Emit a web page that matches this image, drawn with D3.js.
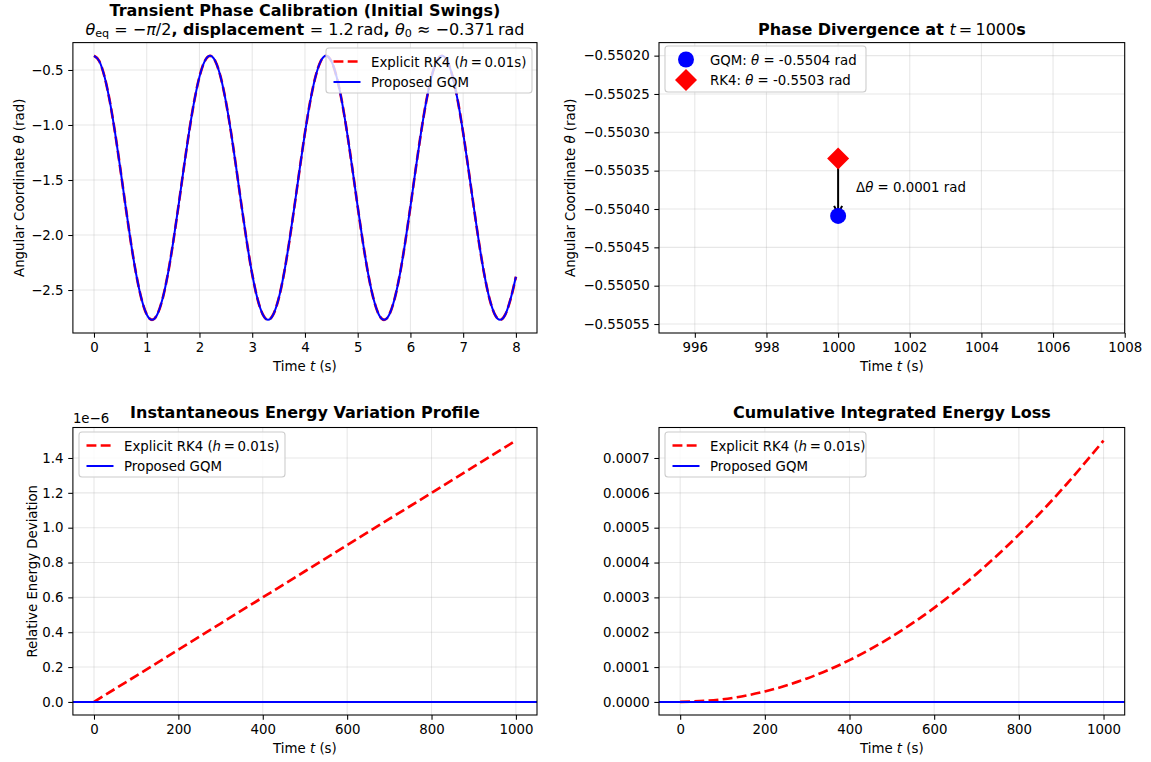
<!DOCTYPE html>
<html><head><meta charset="utf-8">
<script src="https://cdn.jsdelivr.net/npm/d3@7"></script>
<style>
body{margin:0;background:#fff}
text{font-family:"DejaVu Sans",sans-serif;fill:#000}
</style>
</head><body>
<svg id="c" width="1151" height="762"></svg>
<script>
// ---------- DATA ----------
// Panel 1: initial swings, sampled every 0.1 s from t = 0 to 8 s
const swingStep = 0.1;
const swingTheta = [
 -0.371,-0.419,-0.561,-0.785,-1.072,-1.400,-1.742,-2.069,-2.357,-2.580,-2.722,
 -2.771,-2.722,-2.580,-2.357,-2.069,-1.742,-1.400,-1.072,-0.785,-0.561,-0.419,
 -0.371,-0.419,-0.561,-0.785,-1.072,-1.400,-1.742,-2.069,-2.357,-2.580,-2.722,
 -2.771,-2.722,-2.580,-2.357,-2.069,-1.742,-1.400,-1.072,-0.785,-0.561,-0.419,
 -0.371,-0.419,-0.561,-0.785,-1.072,-1.400,-1.742,-2.069,-2.357,-2.580,-2.722,
 -2.771,-2.722,-2.580,-2.357,-2.069,-1.742,-1.400,-1.072,-0.785,-0.561,-0.419,
 -0.371,-0.419,-0.561,-0.785,-1.072,-1.400,-1.742,-2.069,-2.357,-2.580,-2.722,
 -2.771,-2.722,-2.580,-2.380
];
const swingRK4 = swingTheta;
const swingGQM = swingTheta;
const swingXTicks = [0,1,2,3,4,5,6,7,8];
const swingYTicks = [-0.5,-1.0,-1.5,-2.0,-2.5];

// Panel 2: phase at t = 1000 s
const divTime = 1000;
const divGQM = -0.550409;
const divRK4 = -0.550334;
const divLabels = ["GQM: θ = -0.5504 rad", "RK4: θ = -0.5503 rad"];
const divDeltaLabel = "0.0001";
const divXTicks = [996,998,1000,1002,1004,1006,1008];
const divYTicks = [-0.55020,-0.55025,-0.55030,-0.55035,-0.55040,-0.55045,-0.55050,-0.55055];

// Panel 3 & 4: energy
const energyTime = [0,100,200,300,400,500,600,700,800,900,1000];
const rk4EnergyDev = [0,0.15e-6,0.30e-6,0.45e-6,0.60e-6,0.75e-6,0.90e-6,1.05e-6,1.20e-6,1.35e-6,1.50e-6];
const gqmEnergyDev = [0,0,0,0,0,0,0,0,0,0,0];
const rk4CumLoss = [0,0.0000075,0.00003,0.0000675,0.00012,0.0001875,0.00027,0.0003675,0.00048,0.0006075,0.00075];
const gqmCumLoss = [0,0,0,0,0,0,0,0,0,0,0];
const energyXTicks = [0,200,400,600,800,1000];
const devYTicks = [0,0.2e-6,0.4e-6,0.6e-6,0.8e-6,1.0e-6,1.2e-6,1.4e-6];
const lossYTicks = [0,0.0001,0.0002,0.0003,0.0004,0.0005,0.0006,0.0007];

// ---------- LAYOUT ----------
const svg = d3.select("#c");
const FS = 13.33, TFS = 16;
const RED = "#ff0000", BLUE = "#0000ff";
const P = [
  {l:72.9, r:537, t:42.6, b:333},
  {l:659, r:1124.7, t:42.6, b:333},
  {l:72.9, r:537, t:427.5, b:715},
  {l:659, r:1124.7, t:427.5, b:715}
];
const minus = s => s.replace(/-/g, "\u2212");

function setupAxes(p, x, y, xt, yt, xf, yf, id){
  const g = svg.append("g");
  // clip
  svg.append("clipPath").attr("id", "clip"+id).append("rect")
    .attr("x", p.l).attr("y", p.t).attr("width", p.r-p.l).attr("height", p.b-p.t);
  // grid
  g.selectAll(".gx").data(xt).join("line")
    .attr("x1", d=>x(d)).attr("x2", d=>x(d)).attr("y1", p.t).attr("y2", p.b)
    .attr("stroke", "#b0b0b0").attr("stroke-opacity", 0.3).attr("stroke-width", 1.07);
  g.selectAll(".gy").data(yt).join("line")
    .attr("y1", d=>y(d)).attr("y2", d=>y(d)).attr("x1", p.l).attr("x2", p.r)
    .attr("stroke", "#b0b0b0").attr("stroke-opacity", 0.3).attr("stroke-width", 1.07);
  return g;
}
function drawFrame(p, x, y, xt, yt, xf, yf){
  const ax = svg.append("g").attr("transform", `translate(0,${p.b})`)
    .call(d3.axisBottom(x).tickValues(xt).tickFormat(xf).tickSize(4.67).tickPadding(4.67));
  const ay = svg.append("g").attr("transform", `translate(${p.l},0)`)
    .call(d3.axisLeft(y).tickValues(yt).tickFormat(yf).tickSize(4.67).tickPadding(4.67));
  [ax, ay].forEach(a => {
    a.select(".domain").remove();
    a.selectAll(".tick line").attr("stroke", "#000").attr("stroke-width", 1.07);
    a.selectAll(".tick text").attr("font-size", FS).attr("font-family", "DejaVu Sans").attr("fill", "#000");
  });
  svg.append("rect").attr("x", p.l).attr("y", p.t).attr("width", p.r-p.l).attr("height", p.b-p.t)
    .attr("fill", "none").attr("stroke", "#000").attr("stroke-width", 1.07);
}
function xlabel(p, yb){
  const t = svg.append("text").attr("x", (p.l+p.r)/2).attr("y", yb)
    .attr("text-anchor", "middle").attr("font-size", FS);
  t.append("tspan").text("Time ");
  t.append("tspan").attr("font-style", "italic").text("t");
  t.append("tspan").text(" (s)");
}
function ylabel(p, xc, parts){
  const t = svg.append("text")
    .attr("transform", `translate(${xc},${(p.t+p.b)/2}) rotate(-90)`)
    .attr("text-anchor", "middle").attr("dominant-baseline", "central").attr("font-size", FS);
  parts.forEach(([s, it]) => t.append("tspan").attr("font-style", it ? "italic" : null).text(s));
}
function legend(x0, y0, w, h, rows){
  const g = svg.append("g");
  g.append("rect").attr("x", x0).attr("y", y0).attr("width", w).attr("height", h)
    .attr("rx", 3).attr("fill", "#fff").attr("fill-opacity", 0.8)
    .attr("stroke", "#cccccc").attr("stroke-width", 1.07);
  rows.forEach((r, i) => {
    const cy = y0 + 13.5 + i*20.5;
    const hx = x0 + 7.5;
    if (r.kind === "dash") {
      g.append("line").attr("x1", hx).attr("x2", hx+27).attr("y1", cy).attr("y2", cy)
        .attr("stroke", r.color).attr("stroke-width", r.w).attr("stroke-dasharray", r.dash);
    } else if (r.kind === "solid") {
      g.append("line").attr("x1", hx).attr("x2", hx+27).attr("y1", cy).attr("y2", cy)
        .attr("stroke", r.color).attr("stroke-width", r.w);
    } else if (r.kind === "circle") {
      g.append("circle").attr("cx", hx+13.5).attr("cy", cy).attr("r", 8).attr("fill", r.color);
    } else if (r.kind === "diamond") {
      g.append("path").attr("d", d3.symbol(d3.symbolSquare, 242)()).attr("transform", `translate(${hx+13.5},${cy}) rotate(45)`)
        .attr("fill", r.color);
    }
    const t = g.append("text").attr("x", x0 + 45).attr("y", cy).attr("dominant-baseline", "central")
      .attr("font-size", FS);
    r.parts.forEach(([s, it]) => t.append("tspan").attr("font-style", it ? "italic" : null).text(s));
  });
}
const rk4LegendParts = [["Explicit RK4 ("], ["h", true], ["\u2009=\u20090.01s)"]];

// ---------- PANEL 1 ----------
{
  const p = P[0];
  const x = d3.scaleLinear().domain([-0.4, 8.4]).range([p.l, p.r]);
  const y = d3.scaleLinear().domain([-2.8908, -0.2510]).range([p.b, p.t]);
  setupAxes(p, x, y, swingXTicks, swingYTicks, null, null, 1);
  const line = d3.line().x((d,i)=>x(i*swingStep)).y(d=>y(d)).curve(d3.curveMonotoneX);
  svg.append("path").datum(swingRK4).attr("d", line).attr("clip-path", "url(#clip1)")
    .attr("fill", "none").attr("stroke", RED).attr("stroke-width", 2.67).attr("stroke-dasharray", "9.9,4.3");
  svg.append("path").datum(swingGQM).attr("d", line).attr("clip-path", "url(#clip1)")
    .attr("fill", "none").attr("stroke", BLUE).attr("stroke-width", 2);
  drawFrame(p, x, y, swingXTicks, swingYTicks, d=>String(d), d=>minus(d.toFixed(1)));
  xlabel(p, 371);
  ylabel(p, 18.5, [["Angular Coordinate "], ["θ", true], [" (rad)"]]);
  const t1 = svg.append("text").attr("x", (p.l+p.r)/2).attr("y", 16).attr("text-anchor", "middle")
    .attr("font-size", TFS).attr("font-weight", "bold").text("Transient Phase Calibration (Initial Swings)");
  const t2 = svg.append("text").attr("x", (p.l+p.r)/2).attr("y", 34.5).attr("text-anchor", "middle")
    .attr("font-size", TFS);
  t2.append("tspan").attr("font-style", "italic").text("θ");
  t2.append("tspan").attr("font-size", 11.2).attr("dy", 2.5).text("eq");
  t2.append("tspan").attr("dy", -2.5).text(" = \u2212");
  t2.append("tspan").attr("font-style", "italic").text("π");
  t2.append("tspan").text("/2");
  t2.append("tspan").attr("font-weight", "bold").text(", displacement ");
  t2.append("tspan").text("= 1.2\u2009rad");
  t2.append("tspan").attr("font-weight", "bold").text(", ");
  t2.append("tspan").attr("font-style", "italic").text("θ");
  t2.append("tspan").attr("font-size", 11.2).attr("dy", 2.5).text("0");
  t2.append("tspan").attr("dy", -2.5).text(" \u2248 \u22120.371\u2009rad");
  legend(326, 48, 206, 45, [
    {kind:"dash", color:RED, w:2.67, dash:"9.9,4.3", parts:rk4LegendParts},
    {kind:"solid", color:BLUE, w:2, parts:[["Proposed GQM"]]}
  ]);
}

// ---------- PANEL 2 ----------
{
  const p = P[1];
  const x = d3.scaleLinear().domain([995, 1008]).range([p.l, p.r]);
  const y = d3.scaleLinear().domain([-0.5505617, -0.550183]).range([p.b, p.t]);
  setupAxes(p, x, y, divXTicks, divYTicks, null, null, 2);
  // arrow from RK4 to GQM
  const ax = x(divTime), ya = y(divRK4) + 2, yb = y(divGQM) - 2;
  svg.append("line").attr("x1", ax).attr("x2", ax).attr("y1", ya).attr("y2", yb)
    .attr("stroke", "#000").attr("stroke-width", 2);
  svg.append("path").attr("d", `M${ax-4},${yb-8}L${ax},${yb}L${ax+4},${yb-8}`)
    .attr("fill", "none").attr("stroke", "#000").attr("stroke-width", 2);
  svg.append("circle").attr("cx", x(divTime)).attr("cy", y(divGQM)).attr("r", 8).attr("fill", BLUE);
  svg.append("path").attr("d", d3.symbol(d3.symbolSquare, 242)())
    .attr("transform", `translate(${x(divTime)},${y(divRK4)}) rotate(45)`).attr("fill", RED);
  const at = svg.append("text").attr("x", x(divTime + 0.5)).attr("y", y((divRK4 + divGQM)/2))
    .attr("dominant-baseline", "central").attr("font-size", FS);
  at.append("tspan").text("Δ");
  at.append("tspan").attr("font-style", "italic").text("θ");
  at.append("tspan").text(" = " + divDeltaLabel + " rad");
  drawFrame(p, x, y, divXTicks, divYTicks, d=>String(d), d=>minus(d.toFixed(5)));
  xlabel(p, 371);
  ylabel(p, 570, [["Angular Coordinate "], ["θ", true], [" (rad)"]]);
  const tt = svg.append("text").attr("x", (p.l+p.r)/2).attr("y", 35).attr("text-anchor", "middle")
    .attr("font-size", TFS);
  tt.append("tspan").attr("font-weight", "bold").text("Phase Divergence at ");
  tt.append("tspan").attr("font-style", "italic").text("t");
  tt.append("tspan").text("\u2009=\u20091000");
  tt.append("tspan").attr("font-weight", "bold").text("s");
  const lp = divLabels.map(s => { const k = s.indexOf("θ"); return [[s.slice(0,k)],["θ",true],[s.slice(k+1)]]; });
  legend(665, 46, 201, 46, [
    {kind:"circle", color:BLUE, parts:lp[0]},
    {kind:"diamond", color:RED, parts:lp[1]}
  ]);
}

// ---------- PANEL 3 ----------
{
  const p = P[2];
  const x = d3.scaleLinear().domain([-50, 1050]).range([p.l, p.r]);
  const y = d3.scaleLinear().domain([-0.075e-6, 1.575e-6]).range([p.b, p.t]);
  setupAxes(p, x, y, energyXTicks, devYTicks, null, null, 3);
  const line = d3.line().x((d,i)=>x(energyTime[i])).y(d=>y(d));
  svg.append("path").datum(rk4EnergyDev).attr("d", line).attr("clip-path", "url(#clip3)")
    .attr("fill", "none").attr("stroke", RED).attr("stroke-width", 2.67).attr("stroke-dasharray", "9.9,4.3");
  svg.append("line").attr("x1", p.l).attr("x2", p.r).attr("y1", y(gqmEnergyDev[0])).attr("y2", y(gqmEnergyDev[0]))
    .attr("stroke", BLUE).attr("stroke-width", 2);
  drawFrame(p, x, y, energyXTicks, devYTicks, d=>String(d), d=>(d/1e-6).toFixed(1));
  xlabel(p, 753);
  ylabel(p, 32, [["Relative Energy Deviation"]]);
  svg.append("text").attr("x", p.l).attr("y", 423).attr("font-size", FS).text("1e\u22126");
  svg.append("text").attr("x", (p.l+p.r)/2).attr("y", 417.5).attr("text-anchor", "middle")
    .attr("font-size", TFS).attr("font-weight", "bold").text("Instantaneous Energy Variation Profile");
  legend(79, 432, 206, 45, [
    {kind:"dash", color:RED, w:2.67, dash:"9.9,4.3", parts:rk4LegendParts},
    {kind:"solid", color:BLUE, w:2, parts:[["Proposed GQM"]]}
  ]);
}

// ---------- PANEL 4 ----------
{
  const p = P[3];
  const x = d3.scaleLinear().domain([-50, 1050]).range([p.l, p.r]);
  const y = d3.scaleLinear().domain([-0.0000375, 0.0007875]).range([p.b, p.t]);
  setupAxes(p, x, y, energyXTicks, lossYTicks, null, null, 4);
  const line = d3.line().x((d,i)=>x(energyTime[i])).y(d=>y(d)).curve(d3.curveMonotoneX);
  svg.append("path").datum(rk4CumLoss).attr("d", line).attr("clip-path", "url(#clip4)")
    .attr("fill", "none").attr("stroke", RED).attr("stroke-width", 2.67).attr("stroke-dasharray", "9.9,4.3");
  svg.append("line").attr("x1", p.l).attr("x2", p.r).attr("y1", y(gqmCumLoss[0])).attr("y2", y(gqmCumLoss[0]))
    .attr("stroke", BLUE).attr("stroke-width", 2);
  drawFrame(p, x, y, energyXTicks, lossYTicks, d=>String(d), d=>d.toFixed(4));
  xlabel(p, 753);
  svg.append("text").attr("x", (p.l+p.r)/2).attr("y", 417.5).attr("text-anchor", "middle")
    .attr("font-size", TFS).attr("font-weight", "bold").text("Cumulative Integrated Energy Loss");
  legend(665, 432, 201, 45, [
    {kind:"dash", color:RED, w:2.67, dash:"9.9,4.3", parts:rk4LegendParts},
    {kind:"solid", color:BLUE, w:2, parts:[["Proposed GQM"]]}
  ]);
}
</script>
</body></html>
